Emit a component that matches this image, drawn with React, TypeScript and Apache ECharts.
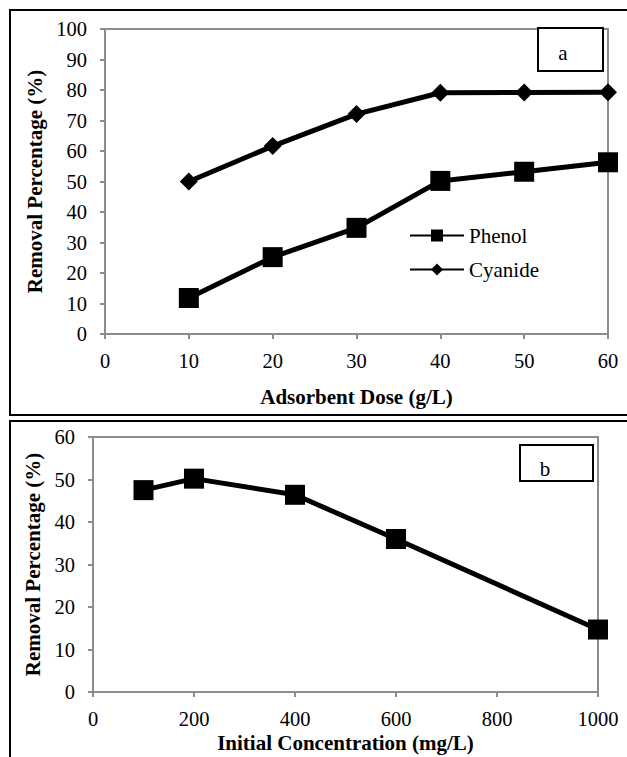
import React, { useEffect, useRef } from "react";
import * as echarts from "echarts";

const doseX = [10, 20, 30, 40, 50, 60];
const phenolDose = [11.8, 25.2, 34.8, 50.2, 53.2, 56.3];
const cyanideDose = [50.0, 61.6, 72.1, 79.1, 79.2, 79.3];

const concX = [100, 200, 400, 600, 1000];
const phenolConc = [47.5, 50.2, 46.4, 36.0, 14.7];

const FONT = "'Liberation Serif', 'Times New Roman', 'DejaVu Serif', serif";
const GRAY = "#8c8c8c";

function pairs(xs: number[], ys: number[]) {
  return xs.map((x, i) => [x, ys[i]]);
}

export default function App() {
  const ref = useRef<HTMLDivElement>(null);
  useEffect(() => {
    document.body.style.margin = "0";
    const chart = echarts.init(ref.current!, null, { renderer: "svg" });
    const axisCommon = {
      axisLine: { show: true, lineStyle: { color: GRAY, width: 2 } },
      axisTick: { show: true, length: 5, lineStyle: { color: GRAY, width: 2 } },
      splitLine: { show: false },
      axisLabel: { color: "#000", fontFamily: FONT, fontSize: 20.5, formatter: (v: number) => String(v) },
      nameTextStyle: { color: "#000", fontFamily: FONT, fontSize: 21, fontWeight: "bold" },
    };
    chart.setOption({
      animation: false,
      backgroundColor: "#fff",
      textStyle: { fontFamily: FONT },
      grid: [
        { left: 105, top: 29, width: 503, height: 305, show: true, borderColor: GRAY, borderWidth: 2 },
        { left: 93, top: 437, width: 505, height: 255, show: true, borderColor: GRAY, borderWidth: 2 },
      ],
      xAxis: [
        {
          ...axisCommon,
          type: "value", gridIndex: 0, min: 0, max: 60, interval: 10,
          axisLabel: { ...axisCommon.axisLabel, margin: 16 },
          name: "Adsorbent Dose (g/L)", nameLocation: "middle", nameGap: 52,
        },
        {
          ...axisCommon,
          type: "value", gridIndex: 1, min: 0, max: 1000, interval: 200,
          axisLabel: { ...axisCommon.axisLabel, margin: 16 },
          name: "Initial Concentration (mg/L)", nameLocation: "middle", nameGap: 40,
        },
      ],
      yAxis: [
        {
          ...axisCommon,
          type: "value", gridIndex: 0, min: 0, max: 100, interval: 10,
          axisLabel: { ...axisCommon.axisLabel, margin: 18 },
          name: "Removal Percentage (%)", nameLocation: "middle", nameGap: 60,
        },
        {
          ...axisCommon,
          type: "value", gridIndex: 1, min: 0, max: 60, interval: 10,
          axisLabel: { ...axisCommon.axisLabel, margin: 18 },
          name: "Removal Percentage (%)", nameLocation: "middle", nameGap: 48,
        },
      ],
      legend: {
        data: ["Phenol", "Cyanide"],
        orient: "vertical",
        left: 409,
        top: 225,
        padding: 0,
        itemWidth: 54,
        itemHeight: 15,
        itemGap: 13,
        textStyle: { color: "#000", fontFamily: FONT, fontSize: 21 },
      },
      series: [
        {
          name: "Phenol", type: "line", xAxisIndex: 0, yAxisIndex: 0,
          data: pairs(doseX, phenolDose),
          symbol: "rect", symbolSize: 20,
          lineStyle: { color: "#000", width: 5 },
          itemStyle: { color: "#000" },
        },
        {
          name: "Cyanide", type: "line", xAxisIndex: 0, yAxisIndex: 0,
          data: pairs(doseX, cyanideDose),
          symbol: "diamond", symbolSize: 18,
          lineStyle: { color: "#000", width: 5 },
          itemStyle: { color: "#000" },
        },
        {
          name: "Phenol (b)", type: "line", xAxisIndex: 1, yAxisIndex: 1,
          data: pairs(concX, phenolConc),
          symbol: "rect", symbolSize: 20,
          lineStyle: { color: "#000", width: 5 },
          itemStyle: { color: "#000" },
        },
      ],
      graphic: [
        { type: "rect", shape: { x: 10, y: 10, width: 640, height: 405 }, style: { fill: "none", stroke: "#000", lineWidth: 2 }, z: 100 },
        { type: "rect", shape: { x: 10, y: 421, width: 640, height: 400 }, style: { fill: "none", stroke: "#000", lineWidth: 2 }, z: 100 },
        { type: "rect", shape: { x: 538, y: 28, width: 65, height: 43 }, style: { fill: "#fff", stroke: "#000", lineWidth: 2 }, z: 100 },
        { type: "text", x: 563, y: 53, style: { text: "a", fill: "#000", fontFamily: FONT, fontSize: 21, textAlign: "center", textVerticalAlign: "middle" }, z: 101 },
        { type: "rect", shape: { x: 520, y: 445, width: 73, height: 36 }, style: { fill: "#fff", stroke: "#000", lineWidth: 2 }, z: 100 },
        { type: "text", x: 545, y: 469, style: { text: "b", fill: "#000", fontFamily: FONT, fontSize: 21, textAlign: "center", textVerticalAlign: "middle" }, z: 101 },
      ],
    });
    return () => chart.dispose();
  }, []);
  return <div ref={ref} style={{ width: 627, height: 757, position: "absolute", left: 0, top: 0 }} />;
}
